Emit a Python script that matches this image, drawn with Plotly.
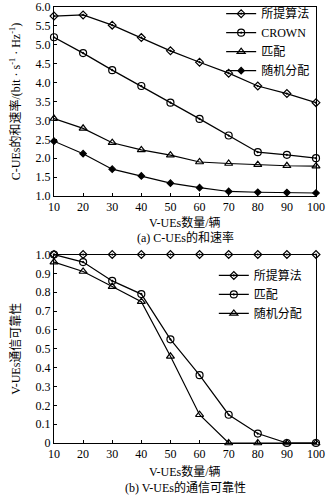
import plotly.graph_objects as go
from plotly.subplots import make_subplots

x_ues = [10, 20, 30, 40, 50, 60, 70, 80, 90, 100]

# (a) C-UEs sum rate
rate_proposed = [5.76, 5.79, 5.52, 5.19, 4.84, 4.54, 4.25, 3.91, 3.71, 3.47]
rate_crown = [5.20, 4.78, 4.33, 3.91, 3.47, 3.04, 2.60, 2.16, 2.09, 2.00]
rate_match = [3.05, 2.79, 2.41, 2.22, 2.08, 1.90, 1.86, 1.83, 1.80, 1.79]
rate_random = [2.45, 2.12, 1.71, 1.53, 1.34, 1.22, 1.12, 1.10, 1.09, 1.08]

# (b) V-UEs reliability
rel_proposed = [1.0, 1.0, 1.0, 1.0, 1.0, 1.0, 1.0, 1.0, 1.0, 1.0]
rel_match = [1.0, 0.96, 0.86, 0.79, 0.55, 0.36, 0.15, 0.05, 0.0, 0.0]
rel_random = [0.96, 0.91, 0.83, 0.75, 0.46, 0.15, 0.0, 0.0, 0.0, 0.0]

y1_ticks = [1.0, 1.5, 2.0, 2.5, 3.0, 3.5, 4.0, 4.5, 5.0, 5.5, 6.0]
y1_text = ["1.0", "1.5", "2.0", "2.5", "3.0", "3.5", "4.0", "4.5", "5.0", "5.5", "6.0"]
y2_ticks = [0, 0.1, 0.2, 0.3, 0.4, 0.5, 0.6, 0.7, 0.8, 0.9, 1.0]
y2_text = ["0", "0.1", "0.2", "0.3", "0.4", "0.5", "0.6", "0.7", "0.8", "0.9", "1.0"]

FONT = "Liberation Serif, Noto Sans CJK SC, serif"

fig = make_subplots(rows=2, cols=1)

def add(x, y, name, symbol, row, size=6, legend="legend"):
    fig.add_trace(go.Scatter(
        x=x, y=y, name=name, mode="lines+markers",
        line=dict(color="black", width=1.2),
        marker=dict(symbol=symbol, size=size, color="black",
                    line=dict(color="black", width=1.2)),
        cliponaxis=False, legend=legend), row=row, col=1)

add(x_ues, rate_proposed, "所提算法", "diamond-open-dot", 1)
add(x_ues, rate_crown, "CROWN", "circle-open-dot", 1, size=7)
add(x_ues, rate_match, "匹配", "triangle-up-open", 1, size=7)
add(x_ues, rate_random, "随机分配", "diamond", 1, size=5)

add(x_ues, rel_proposed, "所提算法", "diamond-open-dot", 2, legend="legend2")
add(x_ues, rel_match, "匹配", "circle-open-dot", 2, size=7, legend="legend2")
add(x_ues, rel_random, "随机分配", "triangle-up-open", 2, size=7, legend="legend2")

axis_common = dict(showline=True, linecolor="black", linewidth=1, mirror=True,
                   ticks="inside", ticklen=3, tickcolor="black", showgrid=False,
                   zeroline=False, automargin=False,
                   tickfont=dict(size=12, family=FONT, color="black"))

fig.update_xaxes(range=[10, 100], tickvals=x_ues, **axis_common)
fig.update_yaxes(**axis_common)
fig.update_yaxes(range=[1, 6], tickvals=y1_ticks, ticktext=y1_text, row=1, col=1,
                 title=dict(text="C-UEs的和速率/(bit · s<sup>-1</sup> · Hz<sup>-1</sup>)",
                            font=dict(size=12, family=FONT), standoff=12))
fig.update_yaxes(range=[0, 1], tickvals=y2_ticks, ticktext=y2_text, row=2, col=1,
                 title=dict(text="V-UEs通信可靠性", font=dict(size=12, family=FONT), standoff=12))

fig.update_layout(
    width=328, height=500,
    margin=dict(l=54, r=12, t=7, b=57, autoexpand=False),
    paper_bgcolor="white", plot_bgcolor="white",
    font=dict(family=FONT, size=12, color="black"),
    yaxis=dict(domain=[0.5665, 1.0]),
    yaxis2=dict(domain=[0.0, 0.4323]),
    legend=dict(x=0.638, y=1.018, xanchor="left", yanchor="top", bgcolor="rgba(0,0,0,0)",
                font=dict(size=12, family=FONT), tracegroupgap=0, itemwidth=30),
    legend2=dict(x=0.61, y=0.4175, xanchor="left", yanchor="top", bgcolor="rgba(0,0,0,0)",
                 font=dict(size=12, family=FONT), tracegroupgap=0, itemwidth=30),
    annotations=[
        dict(text="V-UEs数量/辆", x=0.5, y=222, xref="paper", yref="paper", showarrow=False),
        dict(text="(a) C-UEs的和速率", x=0.5, y=237, xref="paper", yref="paper", showarrow=False),
        dict(text="V-UEs数量/辆", x=0.5, y=471, xref="paper", yref="paper", showarrow=False),
        dict(text="(b) V-UEs的通信可靠性", x=0.5, y=487, xref="paper", yref="paper", showarrow=False),
    ],
)

# convert pixel y positions of annotations into paper coords
plot_top, plot_bottom = 7, 443
for ann in fig.layout.annotations:
    py = ann.y
    ann.y = (plot_bottom - py) / (plot_bottom - plot_top)
    ann.yanchor = "middle"
    ann.font = dict(size=12, family=FONT, color="black")

fig.write_html("out.html", config={"displayModeBar": False},
               post_script="document.body.style.margin='0';")
